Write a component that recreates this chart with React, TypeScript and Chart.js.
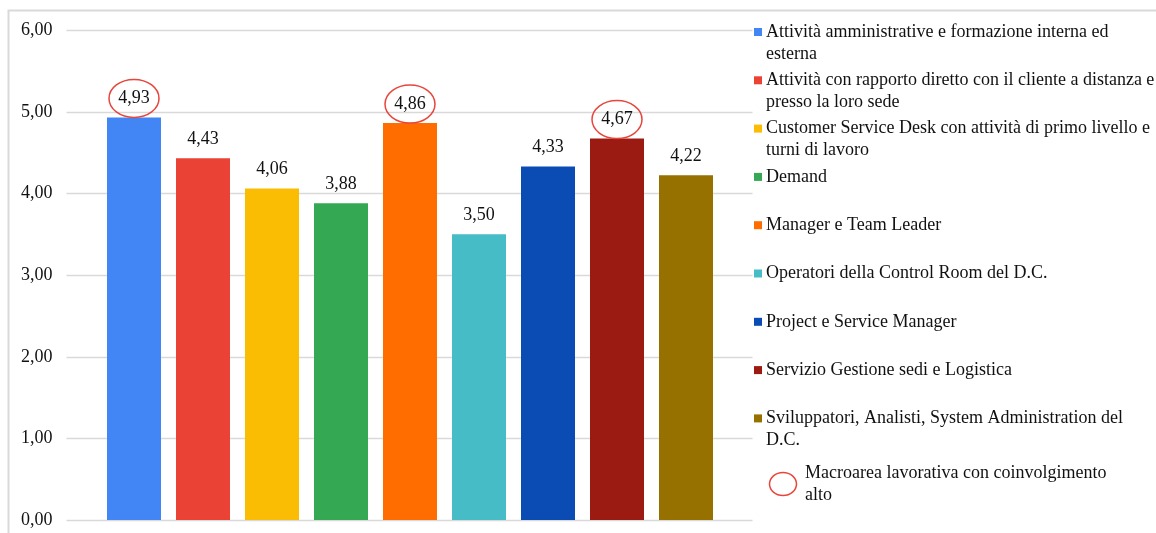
import React, { useEffect, useRef } from "react";
import { Chart, registerables } from "chart.js";

Chart.register(...registerables);

// Job areas and their average score
const categories: string[] = [
  "Attività amministrative e formazione interna ed esterna",
  "Attività con rapporto diretto con il cliente a distanza e presso la loro sede",
  "Customer Service Desk con attività di primo livello e turni di lavoro",
  "Demand",
  "Manager e Team Leader",
  "Operatori della Control Room del D.C.",
  "Project e Service Manager",
  "Servizio Gestione sedi e Logistica",
  "Sviluppatori, Analisti, System Administration del D.C.",
];
const values: number[] = [4.93, 4.43, 4.06, 3.88, 4.86, 3.5, 4.33, 4.67, 4.22];
const barColors: string[] = [
  "#4285F4",
  "#EA4335",
  "#FBBC04",
  "#34A853",
  "#FF6D01",
  "#46BDC6",
  "#0B4CB4",
  "#9B1B12",
  "#977100",
];
// Areas with high involvement (circled)
const highlighted: number[] = [0, 4, 7];
const highlightLabel = "Macroarea lavorativa con coinvolgimento alto";
const yTicks = { min: 0, max: 6, step: 1 };

const FONT = "'Liberation Serif', 'Times New Roman', serif";
const TEXT_COLOR = "#111111";
const GRID_COLOR = "#D9D9D9";
const RING_COLOR = "#E8453C";

const fmt = (v: number) => v.toFixed(2).replace(".", ",");

function wrapText(ctx: CanvasRenderingContext2D, text: string, maxWidth: number): string[] {
  const words = text.split(" ");
  const lines: string[] = [];
  let cur = "";
  for (const w of words) {
    const test = cur ? cur + " " + w : w;
    if (ctx.measureText(test).width > maxWidth && cur) {
      lines.push(cur);
      cur = w;
    } else {
      cur = test;
    }
  }
  if (cur) lines.push(cur);
  return lines;
}

const framePlugin = {
  id: "frame",
  beforeDraw(chart: any) {
    const { ctx, width, height } = chart;
    ctx.save();
    ctx.fillStyle = "#ffffff";
    ctx.fillRect(0, 0, width, height);
    ctx.strokeStyle = GRID_COLOR;
    ctx.lineWidth = 2;
    ctx.beginPath();
    ctx.moveTo(8.5, height);
    ctx.lineTo(8.5, 10.5);
    ctx.lineTo(width, 10.5);
    ctx.stroke();
    ctx.restore();
  },
};

// Horizontal grid lines that run a little past the bars, with value labels on the left
const gridPlugin = {
  id: "wideGrid",
  beforeDatasetsDraw(chart: any) {
    const { ctx, chartArea } = chart;
    const y = chart.scales.y;
    ctx.save();
    ctx.strokeStyle = GRID_COLOR;
    ctx.lineWidth = 1.5;
    ctx.font = `18px ${FONT}`;
    ctx.fillStyle = TEXT_COLOR;
    ctx.textAlign = "right";
    ctx.textBaseline = "middle";
    for (const t of y.ticks) {
      const py = Math.round(y.getPixelForValue(t.value)) + 0.5;
      ctx.beginPath();
      ctx.moveTo(chartArea.left - 33, py);
      ctx.lineTo(chartArea.right + 32, py);
      ctx.stroke();
      ctx.fillText(fmt(t.value), chartArea.left - 47, py);
    }
    ctx.restore();
  },
};

const labelPlugin = {
  id: "valueLabels",
  afterDatasetsDraw(chart: any) {
    const { ctx } = chart;
    const meta = chart.getDatasetMeta(0);
    ctx.save();
    ctx.font = `18px ${FONT}`;
    ctx.fillStyle = TEXT_COLOR;
    ctx.textAlign = "center";
    ctx.textBaseline = "middle";
    meta.data.forEach((bar: any, i: number) => {
      const cx = bar.x;
      const cy = bar.y - 19;
      ctx.fillText(fmt(values[i]), cx, cy);
      if (highlighted.includes(i)) {
        ctx.strokeStyle = RING_COLOR;
        ctx.lineWidth = 1.5;
        ctx.beginPath();
        ctx.ellipse(cx, cy, 25, 19, 0, 0, Math.PI * 2);
        ctx.stroke();
      }
    });
    ctx.restore();
  },
};

const legendPlugin = {
  id: "sideLegend",
  afterDraw(chart: any) {
    const { ctx } = chart;
    const x0 = 754;
    const textX = 766;
    const maxW = 391;
    const top = 32;
    const step = 48.3;
    const lineH = 22;
    ctx.save();
    ctx.font = `18px ${FONT}`;
    ctx.fillStyle = TEXT_COLOR;
    ctx.textAlign = "left";
    ctx.textBaseline = "middle";
    categories.forEach((name, i) => {
      const cy = top + i * step;
      ctx.fillStyle = barColors[i];
      ctx.fillRect(x0, cy - 4, 8, 8);
      ctx.fillStyle = TEXT_COLOR;
      wrapText(ctx, name, maxW).forEach((ln, k) => ctx.fillText(ln, textX, cy + k * lineH));
    });
    const lines = wrapText(ctx, highlightLabel, 325);
    const ly = 473;
    lines.forEach((ln, k) => ctx.fillText(ln, 805, ly + k * lineH));
    ctx.strokeStyle = RING_COLOR;
    ctx.lineWidth = 1.5;
    ctx.beginPath();
    ctx.ellipse(783, ly + ((lines.length - 1) * lineH) / 2, 13.5, 11.5, 0, 0, Math.PI * 2);
    ctx.stroke();
    ctx.restore();
  },
};

export default function App() {
  const canvasRef = useRef<HTMLCanvasElement | null>(null);

  useEffect(() => {
    if (!canvasRef.current) return;
    const chart = new Chart(canvasRef.current, {
      type: "bar",
      data: {
        labels: categories,
        datasets: [
          {
            data: values,
            backgroundColor: barColors,
            borderWidth: 0,
            barPercentage: 1,
            categoryPercentage: 54 / 69,
          },
        ],
      },
      options: {
        animation: false,
        responsive: false,
        devicePixelRatio: 1,
        layout: { padding: { top: 30, bottom: 13, left: 0, right: 435.5 } },
        plugins: {
          legend: { display: false },
          tooltip: { enabled: false },
        },
        scales: {
          x: { display: false },
          y: {
            min: yTicks.min,
            max: yTicks.max,
            ticks: { stepSize: yTicks.step, display: false },
            grid: { display: false, drawTicks: false },
            border: { display: false },
            afterFit: (s: any) => {
              s.width = 99.5;
            },
          },
        },
      },
      plugins: [framePlugin, gridPlugin, labelPlugin, legendPlugin],
    });
    return () => chart.destroy();
  }, []);

  return (
    <div style={{ position: "absolute", left: 0, top: 0, width: 1156, height: 533 }}>
      <canvas ref={canvasRef} width={1156} height={533} />
    </div>
  );
}
